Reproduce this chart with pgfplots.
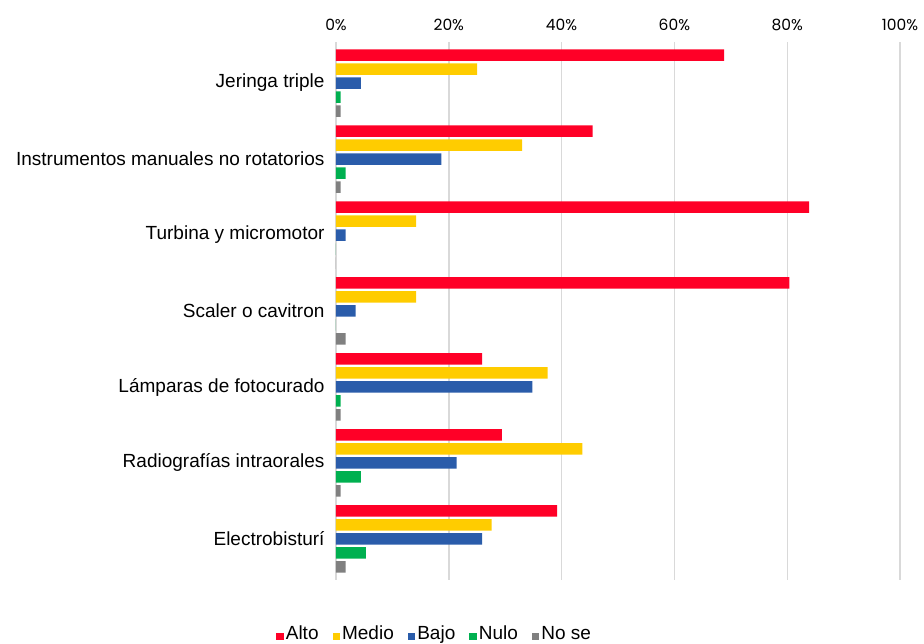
\documentclass[border=0pt]{standalone}
\usepackage{fontspec}
\setmainfont{Liberation Sans}
\newfontfamily\tickfont{Poppins}
\usepackage{pgfplots}
\pgfplotsset{compat=1.18}

\definecolor{alto}{HTML}{FF0027}
\definecolor{medio}{HTML}{FFCC00}
\definecolor{bajo}{HTML}{2A5CAA}
\definecolor{nulo}{HTML}{00B050}
\definecolor{nose}{HTML}{808080}
\definecolor{gridc}{HTML}{D9D9D9}

\begin{document}
\begin{tikzpicture}[x=1pt,y=1pt]
\useasboundingbox (0,0) rectangle (924,644);
\begin{axis}[
    at={(336pt,64pt)}, anchor=south west,
    scale only axis, width=564pt, height=538pt,
    xbar, bar width=11.5pt,
    xmin=0, xmax=100,
    ymin=-0.54, ymax=6.54,
    axis line style={draw=none},
    xtick={0,20,40,60,80,100},
    xticklabels={0\%,20\%,40\%,60\%,80\%,100\%},
    xticklabel pos=upper,
    xticklabel style={font=\tickfont\fontsize{15.5}{18}\selectfont, yshift=8pt},
    xmajorgrids, grid style={gridc, line width=1.4pt},
    major tick length=0pt,
    ytick={0,1,2,3,4,5,6},
    yticklabels={Electrobisturí, Radiografías intraorales, Lámparas de fotocurado,
      Scaler o cavitron, Turbina y micromotor, Instrumentos manuales no rotatorios, Jeringa triple},
    yticklabel style={font=\fontsize{19}{22}\selectfont, xshift=-8pt},
    legend columns=-1,
    legend style={at={(0.175,-0.1)}, anchor=center, draw=none,
      font=\fontsize{19}{22}\selectfont,
      /tikz/every even column/.append style={column sep=12pt}},
    legend image code/.code={\fill[#1,draw=none] (0pt,-6.5pt) rectangle (7.5pt,1pt);},
]
% Alto
\addplot[fill=alto, draw=none, bar shift=28pt] coordinates {
(68.8,6) (45.5,5) (83.9,4) (80.4,3) (25.9,2) (29.4,1) (39.2,0)};
\addlegendentry{Alto}
% Medio
\addplot[fill=medio, draw=none, bar shift=14pt] coordinates {
(25.0,6) (33.0,5) (14.2,4) (14.2,3) (37.5,2) (43.7,1) (27.6,0)};
\addlegendentry{Medio}
% Bajo
\addplot[fill=bajo, draw=none, bar shift=0pt] coordinates {
(4.4,6) (18.7,5) (1.7,4) (3.5,3) (34.8,2) (21.4,1) (25.9,0)};
\addlegendentry{Bajo}
% Nulo
\addplot[fill=nulo, draw=none, bar shift=-14pt] coordinates {
(0.8,6) (1.7,5) (0,4) (0,3) (0.8,2) (4.4,1) (5.3,0)};
\addlegendentry{Nulo}
% No se
\addplot[fill=nose, draw=none, bar shift=-28pt] coordinates {
(0.8,6) (0.8,5) (0,4) (1.7,3) (0.8,2) (0.8,1) (1.7,0)};
\addlegendentry{No se}
\end{axis}
\end{tikzpicture}
\end{document}
